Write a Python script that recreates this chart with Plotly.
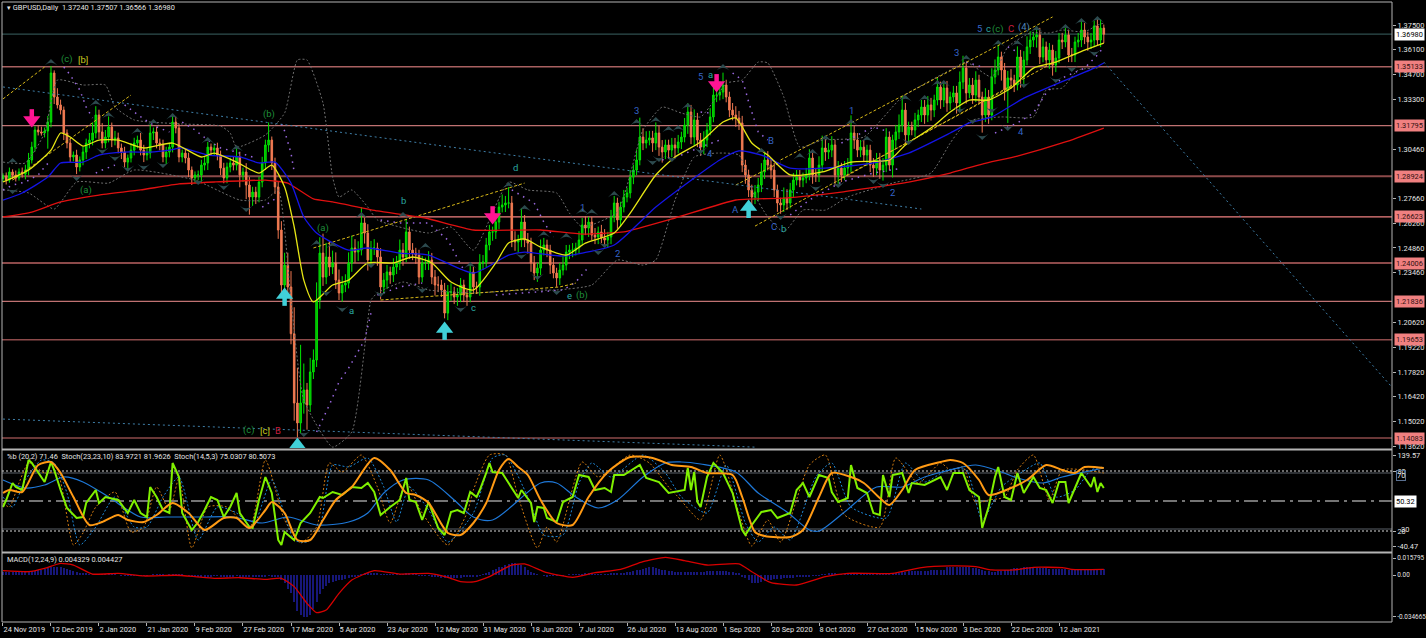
import plotly.graph_objects as go

# ---------- price candles (values in 1e-4 price units) ----------
closes = [
12894,12871,12917,12900,12883,12917,12905,12928,12985,13058,13155,13144,13138,13149,13200,
13478,13342,13297,13268,13138,13081,13002,13013,12945,12985,13030,13081,13098,13138,13240,
13144,13081,13115,13172,13098,13110,13053,13030,12973,12996,13041,13081,13098,13041,13013,
13024,13138,13144,13081,13070,13002,13030,13058,13200,13166,13002,13024,12996,12928,12883,
12900,12900,12956,12968,13058,13041,13053,13013,12939,12883,12945,12968,12956,13002,12900,
12917,12843,12775,12803,12775,12860,12968,13070,13098,12968,12832,12588,12276,12389,12265,
12000,11607,11494,11607,11681,11596,11783,11851,12191,12457,12321,12435,12378,12401,12304,
12231,12276,12287,12401,12486,12463,12474,12628,12571,12418,12486,12486,12435,12265,12304,
12350,12333,12378,12401,12474,12435,12577,12474,12457,12446,12321,12401,12401,12418,12321,
12276,12276,12248,12117,12236,12236,12208,12219,12276,12219,12208,12350,12265,12265,12401,
12406,12503,12577,12577,12633,12718,12730,12741,12741,12531,12520,12531,12633,12531,12514,
12401,12344,12372,12474,12503,12474,12389,12344,12316,12361,12389,12463,12474,12474,12486,
12531,12616,12599,12633,12559,12548,12577,12543,12531,12548,12662,12741,12645,12718,12775,
12798,12888,12928,12985,13115,13081,13098,13110,13081,13138,13058,13030,13070,13041,13070,
13053,13087,13115,13183,13257,13115,13212,13098,13058,13098,13155,13229,13353,13353,13370,
13410,13342,13268,13240,13223,13195,12956,12900,12815,12775,12803,12843,12917,12985,12956,
12928,12815,12741,12730,12769,12741,12815,12871,12888,12871,12883,12900,12996,12900,12900,
12956,13053,13030,13041,13070,12900,12939,12900,12939,12956,13138,13098,13041,13058,13013,
13041,12956,12939,12985,12928,12956,13115,12956,13098,13144,13183,13268,13127,13172,13155,
13212,13240,13285,13240,13297,13268,13325,13399,13325,13393,13308,13342,13365,13308,13427,
13506,13365,13410,13353,13438,13342,13240,13342,13240,13455,13495,13569,13495,13382,13450,
13438,13410,13569,13455,13552,13626,13665,13682,13694,13569,13626,13552,13608,13523,13563,
13665,13654,13694,13580,13580,13654,13665,13722,13682,13654,13665,13745,13665,13733,13698,
]
first_open = 12880
upper_wick = [
15,20,25,15,25,20,25,30,40,30,20,25,30,20,35,
40,15,50,30,20,20,25,20,30,20,30,25,40,60,50,
30,50,40,60,25,40,30,25,30,20,40,30,25,40,30,
30,50,25,30,25,30,30,25,45,30,25,20,25,30,20,
20,25,30,40,30,20,25,30,25,30,25,30,35,50,30,
25,50,45,30,30,30,35,30,100,20,30,30,50,70,70,
90,150,200,330,150,40,80,60,100,90,110,80,90,70,60,
60,50,50,60,70,50,50,90,30,50,40,50,30,50,40,
40,30,50,40,60,40,70,30,40,30,30,40,30,50,40,
40,50,30,40,40,50,30,40,40,30,30,50,30,30,50,
40,40,40,30,50,30,60,40,90,40,50,30,80,40,40,
30,40,30,60,40,30,30,40,30,40,50,40,30,40,30,
50,40,50,30,30,40,30,40,50,30,40,40,30,30,40,
30,40,30,60,110,50,50,40,40,60,40,40,30,30,40,
40,40,30,40,50,40,60,40,40,50,40,50,40,60,60,
70,30,30,40,50,40,40,30,30,30,40,40,50,50,50,
40,40,30,30,60,50,40,40,40,40,30,40,50,30,40,
50,70,50,40,50,30,40,30,40,40,100,40,40,40,40,
30,30,40,40,40,40,50,30,30,40,60,80,40,30,30,
40,30,40,40,50,40,30,50,30,40,40,30,40,40,60,
70,30,40,40,50,30,30,50,40,50,60,70,30,40,40,
50,30,60,40,50,60,50,30,50,40,50,30,40,30,40,
40,40,40,30,40,30,40,50,40,30,40,30,40,50,20,
]
lower_wick = [
20,25,15,25,20,15,20,30,30,20,25,20,15,25,100,
30,40,20,25,40,30,30,25,40,25,30,40,30,30,30,
40,30,30,30,40,30,30,40,30,50,25,30,30,30,40,
30,30,40,30,30,30,40,30,30,30,30,30,30,40,40,
30,30,40,30,40,30,30,30,40,30,30,30,30,30,70,
40,80,100,50,40,30,30,40,40,40,40,50,50,60,40,
60,100,80,60,60,140,40,40,40,50,50,40,50,40,50,
40,50,40,30,50,60,50,30,60,60,40,40,50,70,40,
50,50,40,40,40,50,30,50,40,50,40,30,40,40,40,
60,40,40,30,40,50,40,50,40,40,50,30,40,40,50,
40,30,30,50,40,40,30,40,30,40,50,60,40,40,60,
50,40,50,40,30,40,50,30,50,40,30,30,40,40,30,
30,30,40,50,30,40,40,30,40,40,40,30,50,40,30,
30,30,40,30,30,40,30,30,50,40,50,60,40,50,40,
60,30,40,30,50,40,50,40,50,40,40,30,30,40,30,
40,30,40,30,50,40,40,50,40,60,40,50,40,40,30,
50,40,50,50,40,40,30,40,30,40,40,30,30,50,40,
40,40,50,40,40,60,50,40,30,40,40,50,40,40,40,
60,40,50,40,50,60,40,30,70,50,40,40,50,40,30,
40,40,40,50,40,60,40,30,50,40,50,40,30,60,40,
40,60,30,50,40,40,100,40,50,30,40,30,60,60,187,
50,40,30,60,40,30,40,40,60,40,30,40,50,60,40,
30,40,30,40,40,40,30,40,40,50,40,40,30,40,50,
]

# ---------- MACD histogram, 1e-4 units, one per bar ----------
macd_hist = [
22,20,20,22,22,22,24,24,28,30,32,36,40,44,50,
55,60,62,58,52,44,36,28,20,14,10,8,6,6,4,
4,4,4,4,2,2,0,-1,-2,-3,-3,-2,-2,-1,-1,
-1,0,1,1,1,1,0,1,2,3,3,1,0,-3,-6,
-8,-10,-10,-9,-8,-8,-6,-7,-8,-9,-8,-8,-8,-7,-9,
-10,-12,-14,-14,-15,-14,-12,-9,-7,-8,-12,-14,-36,-60,-100,
-130,-200,-260,-290,-305,-305,-290,-250,-200,-140,-100,-80,-60,-50,-45,
-40,-35,-30,-20,-12,-8,-4,5,8,10,12,12,10,6,5,
3,2,2,2,5,5,8,8,5,2,-2,-4,-5,-5,-8,
-12,-16,-20,-24,-24,-24,-24,-22,-20,-18,-18,-14,-14,-10,-4,
5,15,25,35,45,55,62,70,80,85,85,80,70,55,40,
25,15,5,0,-5,-8,-5,-4,-3,-3,-2,0,2,2,3,
5,6,8,10,8,6,5,5,6,6,8,10,12,14,16,
20,24,28,34,40,45,50,55,55,50,45,40,35,30,28,
25,25,25,22,22,22,22,25,25,25,28,30,30,30,28,
28,26,24,20,15,10,-10,-20,-40,-60,-60,-55,-50,-45,-40,
-35,-32,-30,-28,-25,-25,-22,-20,-18,-16,-12,-10,-8,-6,-4,
-2,2,5,8,10,8,6,4,4,4,6,10,12,12,10,
10,8,4,2,2,4,4,6,10,14,16,20,24,26,26,
28,28,30,32,32,34,36,36,36,36,55,55,55,55,55,
55,55,55,52,48,42,36,30,26,24,24,28,32,36,40,
44,50,52,54,56,58,58,56,52,50,50,48,46,45,44,
44,44,42,40,40,40,40,40,42,42,42,43,43,43,43,
]

# ---------- moving averages ----------
yellow_bar = [0,8,15,18,21,25,30,36,44,53,62,66,73,80,84,88,91,94,97,103,108,114,122,128,134,140,147,154,158,163,168,176,182,191,196,204,210,218,225,229,234,239,246,256,265,277,282,290,296,302,308,315,322,329,338,344]
yellow_val = [12860,12928,13041,13138,13115,13064,13098,13098,13053,13081,13002,13024,12973,12911,12956,12832,12605,12304,12180,12276,12304,12401,12401,12435,12401,12293,12248,12401,12514,12537,12491,12446,12514,12571,12684,12900,13002,13087,13200,13223,13081,13013,12900,12917,12973,12985,13070,13166,13257,13325,13325,13393,13506,13540,13608,13648]
blue_bar = [0,6,14,18,25,30,38,46,52,56,64,74,80,85,90,94,98,108,114,124,133,147,158,163,175,181,191,204,216,224,230,237,246,257,272,283,296,302,309,319,327,341,344]
blue_val = [12758,12798,12888,12968,12973,13013,13030,13030,13041,13053,13013,13002,12968,12973,12854,12662,12571,12474,12486,12457,12446,12344,12446,12463,12440,12457,12503,12718,12883,12985,13036,13013,12939,12939,12968,13024,13138,13195,13229,13336,13399,13506,13535]
red_bar = [0,9,18,30,43,55,66,82,89,97,103,117,132,147,168,181,194,210,229,244,262,283,296,306,317,332,344]
red_val = [12662,12690,12747,12786,12815,12849,12860,12871,12854,12764,12747,12696,12656,12588,12588,12565,12577,12656,12758,12769,12803,12860,12911,12962,13007,13087,13166]

# ---------- envelope bands ----------
band_up_bar = [0,7,13,17,25,32,35,41,56,68,71,73,82,88,92,95,100,103,105,109,114,117,133,140,147,158,164,173,177,181,192,200,206,212,218,223,226,231,236,239,244,249,256,269,281,296,301,309,314,321,327,331,338,342,344]
band_up_val = [12973,12968,13138,13438,13410,13410,13285,13212,13189,13178,13138,13058,13127,13251,13552,13552,13308,12888,12775,12815,12718,12645,12571,12605,12474,12860,12815,12798,12684,12605,12690,13155,13285,13251,13229,13342,13421,13438,13540,13535,13342,13058,13098,13115,13342,13495,13540,13455,13626,13705,13705,13722,13711,13750,13761]
band_lo_bar = [0,8,16,23,33,41,60,74,82,86,90,94,103,109,114,115,117,125,133,147,163,173,184,192,200,204,210,216,223,230,234,239,244,250,257,264,278,290,296,299,303,312,322,326,331,336,342]
band_lo_val = [12815,12798,12707,12860,12854,12928,12871,12758,12758,12815,12191,11624,11357,11443,12078,12191,12231,12293,12248,12231,12248,12248,12276,12418,12389,12418,12758,13002,13024,13013,12815,12662,12577,12701,12701,12775,12854,12911,13081,13155,13212,13229,13229,13382,13393,13495,13506]

# ---------- purple dotted trails (None separates trails) ----------
dot_bar = [0,3,7,11,13,15,None,19,21,24,26,28,None,29,31,35,None,38,41,44,48,52,None,56,60,64,68,73,79,None,81,86,None,87,88,90,91,None,98,102,105,108,113,115,None,118,124,133,139,144,None,117,124,131,None,154,175,179,183,None,159,163,166,169,172,None,218,221,None,228,231,232,233,236,239,None,206,212,218,224,None,246,252,262,272,281,None,262,272,277,None,301,306,None,314,317,None,310,317,322,326,331,338,342,344]
dot_val = [12815,12843,12860,12900,12945,12985,None,13512,13467,13382,13285,13223,None,12911,12928,12956,None,13297,13257,13217,13172,13144,None,13200,13155,13098,13053,13030,12996,None,12718,12775,None,13189,13149,13024,12917,None,11443,11596,11726,11805,11964,12117,None,12645,12628,12628,12531,12361,None,12219,12265,12287,None,12219,12248,12293,12378,None,12815,12775,12741,12633,12548,None,13257,13251,None,13478,13438,13382,13314,13144,13098,None,12985,13013,13058,13098,None,12673,12758,12860,12911,12939,None,13081,13172,13144,None,13540,13512,None,13626,13597,None,13138,13195,13251,13365,13450,13506,13580,13626]

# ---------- fractal markers ----------
frac_up_bar = [15,3,29,33,42,47,53,64,73,98,103,112,125,132,146,158,163,169,176,181,184,191,198,204,208,211,214,225,237,249,253,257,265,270,282,288,292,294,301,311,317,323,332,337,342]
frac_up_val = [13557,12996,13325,13257,13166,13217,13251,13115,13070,12531,12520,12690,12690,12514,12406,12860,12730,12582,12571,12713,12707,12809,13217,13229,13178,13183,13308,13529,13053,13024,13047,13127,13217,13121,13353,13353,13438,13438,13580,13665,13665,13745,13756,13790,13801]
frac_dn_bar = [3,23,31,35,39,44,50,61,69,76,94,106,101,115,118,131,143,162,167,173,186,188,203,205,209,218,243,254,261,272,275,283,299,303,306,309,314,319,329,334,341]
frac_dn_val = [12792,12866,13019,12979,12917,12928,12939,12843,12815,12690,11414,12123,12214,12372,12208,12231,12123,12423,12304,12219,12446,12486,12956,12973,12973,13019,12645,12809,12826,12849,12826,13070,13251,13189,13098,13251,13149,13393,13421,13484,13574]

# ---------- horizontal levels, trend lines ----------
level_val = [1.35133,1.31795,1.28924,1.26623,1.24006,1.21836,1.19653,1.14083]
level_txt = ["1.35133","1.31795","1.28924","1.26623","1.24006","1.21836","1.19653","1.14083"]
level_col = ["#a86060","#c07272","#8c4a4a","#f08080","#8c4a4a","#c07272","#8c4a4a","#8c4a4a"]
level_wid = [1.5,1.3,2,1.3,2,1.3,1.5,1.5]
last_price = 1.36980

yellow_trends = [
 ([0,13],[13331,13512]),
 ([3,40],[12871,13353]),
 ([97,163],[12486,12854]),
 ([118,147,174,179],[12191,12231,12265,12287]),
 ([243,328],[12985,13796]),
 ([235,328],[12610,13535]),
 ([262,316],[12883,13410]),
 ([229,243],[12843,12973]),
]
blue_trends = [
 ([0,147,287],[13399,13041,12707]),
 ([0,147,235],[11516,11414,11357]),
 ([344,434],[13540,11698]),
]

# ---------- stochastic pane ----------
lime_bar = [0,1,3,4,6,7,8,9,11,13,15,16,18,20,23,25,26,29,30,32,36,39,41,43,45,46,48,50,52,53,55,56,59,61,63,65,67,69,71,73,74,77,78,80,82,84,86,87,88,91,93,96,99,100,103,106,109,112,114,116,118,121,124,126,127,129,131,133,136,138,140,142,144,146,148,149,151,152,153,156,158,161,162,165,166,167,169,170,173,175,178,180,183,185,188,190,191,194,199,201,205,208,213,214,215,216,217,218,220,222,225,228,231,232,234,237,240,242,246,248,250,252,255,258,259,261,264,265,267,270,272,274,275,277,278,281,283,284,288,293,295,297,300,302,305,306,308,310,311,313,315,317,319,322,324,326,328,330,332,333,335,337,340,341,342,343,344]
lime_val = [44,51,68,64,61,78,91,88,78,69,89,81,61,43,33,34,48,61,48,54,51,38,51,38,34,64,54,41,38,88,74,38,21,29,41,54,51,34,44,58,38,24,23,51,74,58,11,6,19,11,28,38,54,53,59,56,64,63,68,59,36,44,51,73,51,49,31,49,23,16,39,41,38,59,54,61,78,88,79,78,68,53,61,48,29,44,43,33,29,49,54,76,74,61,63,59,76,76,86,73,69,58,61,83,61,79,49,44,74,88,78,58,21,16,26,39,41,33,38,61,68,54,76,73,59,49,53,86,63,58,38,36,76,54,76,78,58,68,66,74,61,78,78,61,54,23,44,74,84,54,51,78,58,74,63,61,48,69,69,48,63,78,64,74,59,68,63]
orange_bar = [0,2,6,11,15,18,22,27,31,36,39,44,48,53,58,63,69,73,77,82,84,88,92,96,100,104,109,116,121,126,129,133,139,143,147,151,155,158,161,164,168,173,178,183,189,196,203,209,215,220,228,231,235,238,246,250,255,259,265,269,274,277,281,285,293,296,300,305,308,315,320,326,331,335,338,344]
orange_val = [58,61,59,86,89,78,54,26,29,36,31,29,36,48,38,21,33,33,23,41,49,38,11,11,31,51,64,93,81,58,56,48,18,16,28,48,81,92,84,76,51,28,26,54,79,94,93,86,84,78,76,54,19,15,14,21,54,78,74,68,53,46,61,81,89,91,88,71,56,63,71,86,81,78,84,83]
sig_bar = [0,7,13,19,25,33,43,51,62,72,81,89,98,108,114,119,125,133,141,147,153,168,173,179,186,192,200,207,212,218,229,236,245,252,255,263,273,281,288,296,304,312,317,325,331,338,344]
sig_val = [71,63,66,74,69,54,34,34,34,34,28,34,26,29,38,58,71,71,51,34,31,68,68,54,43,51,74,88,89,87,79,58,39,21,20,39,64,64,74,81,86,79,73,68,74,79,83]
dot_or_bar = [0,2,5,8,13,17,22,25,29,35,40,44,48,52,55,59,64,70,77,82,88,93,98,102,106,112,117,121,126,131,139,145,147,152,157,161,167,170,173,181,186,196,202,208,211,218,224,230,234,239,243,252,257,263,274,279,286,293,296,300,304,308,313,317,322,327,331,338,344]
dot_or_val = [48,44,68,88,78,78,6,18,44,59,19,24,64,41,73,3,44,44,23,91,31,8,24,88,79,96,64,28,68,38,6,38,61,96,96,54,3,24,9,89,74,96,88,64,54,31,96,38,5,31,9,86,96,36,24,93,68,88,81,84,48,51,54,81,96,51,81,81,78]
dot_bl_bar = [0,3,7,12,16,20,24,29,35,41,45,50,55,61,67,73,78,84,91,95,99,103,108,114,119,123,127,133,139,147,153,157,164,169,175,180,184,190,200,207,212,220,226,232,236,241,246,254,259,265,276,282,288,295,301,306,312,318,324,329,335,340,344]
dot_bl_val = [54,44,71,91,88,58,6,24,54,24,24,54,74,11,44,38,24,71,11,9,24,86,84,93,64,29,64,41,9,38,93,96,54,16,16,68,88,74,96,78,54,38,86,28,9,24,11,74,88,44,33,88,69,81,81,31,64,78,88,54,61,81,84]

# ---------- MACD signal, 1e-4 units ----------
macd_sig_bar = [0,8,13,18,22,28,36,44,54,60,66,74,82,87,91,95,98,101,105,109,116,124,133,139,143,147,152,159,163,170,178,185,193,200,207,213,220,230,234,240,248,257,264,278,287,296,304,309,316,322,331,334,344]
macd_sig_val = [32,24,49,85,73,7,12,-7,-2,-12,-24,-20,-32,-24,-85,-207,-275,-256,-134,-37,32,7,12,-17,-49,-51,-12,73,81,17,-17,17,41,98,129,105,73,81,24,-56,-73,-12,12,12,54,66,61,37,37,56,54,41,41]

# ---------- texts ----------
date_bar = [15*k for k in range(23)]
date_txt = ["24 Nov 2019","12 Dec 2019","2 Jan 2020","21 Jan 2020","9 Feb 2020","27 Feb 2020","17 Mar 2020","5 Apr 2020","23 Apr 2020","12 May 2020","31 May 2020","18 Jun 2020","7 Jul 2020","26 Jul 2020","13 Aug 2020","1 Sep 2020","20 Sep 2020","8 Oct 2020","27 Oct 2020","15 Nov 2020","3 Dec 2020","22 Dec 2020","12 Jan 2021"]
price_ticks = [1.375,1.361,1.347,1.333,1.3046,1.2766,1.2626,1.2486,1.2346,1.2062,1.1922,1.1782,1.1642,1.1502,1.1362]
price_tick_txt = ["1.37500","1.36100","1.34700","1.33300","1.30460","1.27660","1.26260","1.24860","1.23460","1.20620","1.19220","1.17820","1.16420","1.15020","1.13620"]

GREEN, CYAN, BLUE, CRIM, YEL, STEEL = "#1f8f3a","#2aa8a0","#3565c8","#c81e3c","#c8c81e","#4f86b8"
wave_bar = [20,25,26,83,100,125,109,77,82,86,147,160,177,181,181,192,198,221,218,221,229,240,241,244,265,278,298,318,305,308,311,315,319]
wave_val = [13557,13557,12815,13246,12599,12758,12129,11454,11454,11454,12146,12945,12219,12219,12718,12457,13263,13024,13461,13467,12707,13093,12605,12599,13268,12798,13597,13149,13728,13728,13728,13728,13739]
wave_txt = ["(c)","[b]","(a)","(b)","(a)","b","a","(c)","[c]","B","c","d","e","(b)","1","2","3","4","5","a","A","B","C","b","1","2","3","4","5","c","(c)","C","(4)"]
wave_col = [GREEN,YEL,GREEN,GREEN,GREEN,CYAN,CYAN,GREEN,YEL,CRIM,CYAN,CYAN,CYAN,GREEN,BLUE,BLUE,BLUE,BLUE,BLUE,CYAN,BLUE,BLUE,BLUE,CYAN,BLUE,BLUE,BLUE,BLUE,BLUE,CYAN,GREEN,CRIM,STEEL]

pink_bar = [9,153,223]
pink_val = [13183,12633,13382]
cyan_bar = [88,138,233,92]
cyan_val = [12248,12055,12746,11397]

# ---------- derived OHLC ----------
p = lambda seq: [None if v is None else v / 1e4 for v in seq]
opens = [first_open] + closes[:-1]
highs = [max(o, c) + u for o, c, u in zip(opens, closes, upper_wick)]
lows = [min(o, c) - l for o, c, l in zip(opens, closes, lower_wick)]
bars = list(range(len(closes)))
assert len(closes) == len(upper_wick) == len(lower_wick) == len(macd_hist) == 345

# ---------- layout helpers ----------
W, H = 1426, 638
def fy(px):
    return 1 - px / H
FONT = "Roboto"
TXT = "#e4e4e4"

fig = go.Figure()

# histogram
fig.add_trace(go.Bar(x=bars, y=[v / 1e4 for v in macd_hist], yaxis="y3", width=0.28,
                     marker=dict(color="#17177a", line=dict(width=0))))
fig.add_trace(go.Scatter(x=macd_sig_bar, y=[v / 1e4 for v in macd_sig_val], yaxis="y3", mode="lines",
                         line=dict(color="#d80000", width=1.3, shape="spline", smoothing=0.5)))

# candles
fig.add_trace(go.Candlestick(x=bars, open=p(opens), high=p(highs), low=p(lows), close=p(closes),
                             whiskerwidth=0,
                             increasing=dict(line=dict(color="#00e600", width=1), fillcolor="#00b000"),
                             decreasing=dict(line=dict(color="#f07850", width=1), fillcolor="#f08058")))

# bands, dots
for bx, by in ((band_up_bar, band_up_val), (band_lo_bar, band_lo_val)):
    fig.add_trace(go.Scatter(x=bx, y=p(by), mode="lines",
                             line=dict(color="#6e6e6e", width=1, dash="2px,2px", shape="spline", smoothing=0.5)))
fig.add_trace(go.Scatter(x=dot_bar, y=p(dot_val), mode="lines", connectgaps=False,
                         line=dict(color="#9a68e0", width=1.5, dash="1.5px,5px")))

# trend lines
for tx, ty in yellow_trends:
    fig.add_trace(go.Scatter(x=tx, y=p(ty), mode="lines", line=dict(color="#d8b818", width=1, dash="3px,2px")))
for tx, ty in blue_trends:
    fig.add_trace(go.Scatter(x=tx, y=p(ty), mode="lines", line=dict(color="#3f7fa8", width=1, dash="2px,3px")))

# moving averages
fig.add_trace(go.Scatter(x=red_bar, y=p(red_val), mode="lines", line=dict(color="#e01010", width=1.3, shape="spline", smoothing=0.4)))
fig.add_trace(go.Scatter(x=blue_bar, y=p(blue_val), mode="lines", line=dict(color="#1414e6", width=1.3, shape="spline", smoothing=0.6)))
fig.add_trace(go.Scatter(x=yellow_bar, y=p(yellow_val), mode="lines", line=dict(color="#e6e614", width=1.3, shape="spline", smoothing=0.6)))

# fractals
fig.add_trace(go.Scatter(x=frac_up_bar, y=p(frac_up_val), mode="markers",
                         marker=dict(symbol="arrow-wide", size=9, color="#2c4a4e", line=dict(width=0))))
fig.add_trace(go.Scatter(x=frac_dn_bar, y=p(frac_dn_val), mode="markers",
                         marker=dict(symbol="arrow-wide", angle=180, size=9, color="#2c4a4e", line=dict(width=0))))

# big signal arrows: a stem and a triangular head, offset from the tip price
def add_arrows(bx, tips, sign, color, symbol):
    stem_x, stem_y, head_y = [], [], []
    for b, t in zip(bx, tips):
        stem_x += [b, b, None]
        stem_y += [t + sign * 40, t + sign * 90, None]
        head_y.append(t + sign * 28)
    fig.add_trace(go.Scatter(x=stem_x, y=p(stem_y), mode="lines", line=dict(color=color, width=4.5)))
    fig.add_trace(go.Scatter(x=bx, y=p(head_y), mode="markers",
                             marker=dict(symbol=symbol, size=15, color=color, line=dict(width=0))))
add_arrows(pink_bar, pink_val, +1, "#ff1493", "triangle-down")
add_arrows(cyan_bar, cyan_val, -1, "#40d0d8", "triangle-up")

# stochastic pane
fig.add_trace(go.Scatter(x=dot_or_bar, y=dot_or_val, yaxis="y2", mode="lines",
                         line=dict(color="#d07a10", width=1, dash="2px,2px", shape="spline", smoothing=0.6)))
fig.add_trace(go.Scatter(x=dot_bl_bar, y=dot_bl_val, yaxis="y2", mode="lines",
                         line=dict(color="#1e88d8", width=1, dash="2px,2px", shape="spline", smoothing=0.6)))
fig.add_trace(go.Scatter(x=sig_bar, y=sig_val, yaxis="y2", mode="lines",
                         line=dict(color="#1e78d8", width=1.2, shape="spline", smoothing=0.8)))
fig.add_trace(go.Scatter(x=lime_bar, y=lime_val, yaxis="y2", mode="lines", line=dict(color="#80f000", width=2)))
fig.add_trace(go.Scatter(x=orange_bar, y=orange_val, yaxis="y2", mode="lines",
                         line=dict(color="#ff9a14", width=2, shape="spline", smoothing=0.7)))

shapes = []
# price levels
for v, c, w in zip(level_val, level_col, level_wid):
    shapes.append(dict(type="line", xref="paper", x0=2/W, x1=1392/W, yref="y", y0=v, y1=v, layer="below", line=dict(color=c, width=w)))
shapes.append(dict(type="line", xref="paper", x0=2/W, x1=1392/W, yref="y", y0=last_price, y1=last_price, layer="below", line=dict(color="#2f4f4f", width=1.2)))
# stochastic levels
for v in (78, 22):
    shapes.append(dict(type="line", xref="paper", x0=2/W, x1=1392/W, yref="y2", y0=v, y1=v, layer="below", line=dict(color="#5a6068", width=1)))
for v in (80, 20):
    shapes.append(dict(type="line", xref="paper", x0=2/W, x1=1392/W, yref="y2", y0=v, y1=v, layer="below", line=dict(color="#909090", width=1.5, dash="2px,2px")))
shapes.append(dict(type="line", xref="paper", x0=2/W, x1=1392/W, yref="y2", y0=50, y1=50, layer="below", line=dict(color="#e8e8e8", width=1, dash="14px,5px,3px,5px")))
# frames
fc = "#b4b4b4"
for y in (2, 449.5, 552.5, 622):
    shapes.append(dict(type="line", xref="paper", yref="paper", x0=2/W, x1=1392/W, y0=fy(y), y1=fy(y), line=dict(color=fc, width=2 if y in (449.5, 552.5) else 1)))
for x in (2, 1392):
    shapes.append(dict(type="line", xref="paper", yref="paper", x0=x/W, x1=x/W, y0=fy(2), y1=fy(622), line=dict(color=fc, width=1)))

ann = []
TS = 7.4
ann.append(dict(xref="paper", yref="paper", x=5/W, y=fy(8), text="▾ GBPUSD,Daily  1.37240 1.37507 1.36566 1.36980", showarrow=False, xanchor="left", yanchor="middle", font=dict(color=TXT, size=TS, family=FONT)))
ann.append(dict(xref="paper", yref="paper", x=5/W, y=fy(456.5), text="%b (20,2) 71.46  Stoch(23,23,10) 83.9721 81.9626  Stoch(14,5,3) 75.0307 80.5073", showarrow=False, xanchor="left", yanchor="middle", font=dict(color=TXT, size=TS, family=FONT)))
ann.append(dict(xref="paper", yref="paper", x=5/W, y=fy(559.5), text="MACD(12,24,9) 0.004329 0.004427", showarrow=False, xanchor="left", yanchor="middle", font=dict(color=TXT, size=TS, family=FONT)))

# wave labels
for b, v, t, c in zip(wave_bar, wave_val, wave_txt, wave_col):
    ann.append(dict(x=b, y=v/1e4, xref="x", yref="y", text=t, showarrow=False, font=dict(color=c, size=9.5, family=FONT)))

# right-hand price boxes
for v, t in zip(level_val, level_txt):
    ann.append(dict(xref="paper", yref="y", x=1394/W, y=v, text=t, showarrow=False, xanchor="left", yanchor="middle", bgcolor="#f08080", font=dict(color="#301010", size=TS, family=FONT), borderpad=1))
ann.append(dict(xref="paper", yref="y", x=1394/W, y=last_price, text="1.36980", showarrow=False, xanchor="left", yanchor="middle", bgcolor="#ffffff", font=dict(color="#000000", size=TS, family=FONT), borderpad=1))
ann.append(dict(xref="paper", yref="y2", x=1394/W, y=50, text="50.32", showarrow=False, xanchor="left", yanchor="middle", bgcolor="#ffffff", font=dict(color="#000000", size=TS, family=FONT), borderpad=1))
ann.append(dict(xref="paper", yref="y2", x=1396/W, y=76, text="70", showarrow=False, xanchor="left", yanchor="middle", bordercolor="#5a7090", font=dict(color=TXT, size=TS, family=FONT), borderpad=0))
ann.append(dict(xref="paper", yref="y2", x=1399/W, y=22, text="30", showarrow=False, xanchor="left", yanchor="middle", font=dict(color=TXT, size=TS, family=FONT)))

axis_common = dict(showgrid=False, zeroline=False, showline=False, ticks="outside", ticklen=3, tickcolor="#b4b4b4", automargin=False)
tick_font = dict(color=TXT, size=TS, family=FONT)

fig.update_layout(
    width=W, height=H, margin=dict(l=0, r=0, t=0, b=0, autoexpand=False),
    paper_bgcolor="#000000", plot_bgcolor="#000000", showlegend=False, bargap=0,
    xaxis=dict(domain=[2/W, 1392/W], range=[-0.31, 434.06], anchor="y3", rangeslider=dict(visible=False), tickangle=0,
               tickmode="array", tickvals=date_bar, ticktext=date_txt, ticklabelposition="outside right", tickfont=tick_font, **axis_common),
    yaxis=dict(domain=[fy(448), fy(3)], range=[1.1352, 1.3875], side="right", anchor="x",
               tickmode="array", tickvals=price_ticks, ticktext=price_tick_txt, tickfont=tick_font, **axis_common),
    yaxis2=dict(domain=[fy(551), fy(451)], range=[0, 100], side="right", anchor="x",
                tickmode="array", tickvals=[96, 80, 20, 5], ticktext=["139.57", "80", "20", "-40.47"], tickfont=tick_font, **axis_common),
    yaxis3=dict(domain=[fy(622), fy(554)], range=[-0.03436, 0.01535], side="right", anchor="x",
                tickmode="array", tickvals=[0.0124, 0, -0.0307], ticktext=["0.015795", "0.00", "-0.034665"],
                tickfont=dict(color=TXT, size=6.4, family=FONT), **axis_common),
    shapes=shapes, annotations=ann, hovermode=False,
)

fig.write_html("out.html", config=dict(displayModeBar=False), post_script="document.body.style.margin='0';")
